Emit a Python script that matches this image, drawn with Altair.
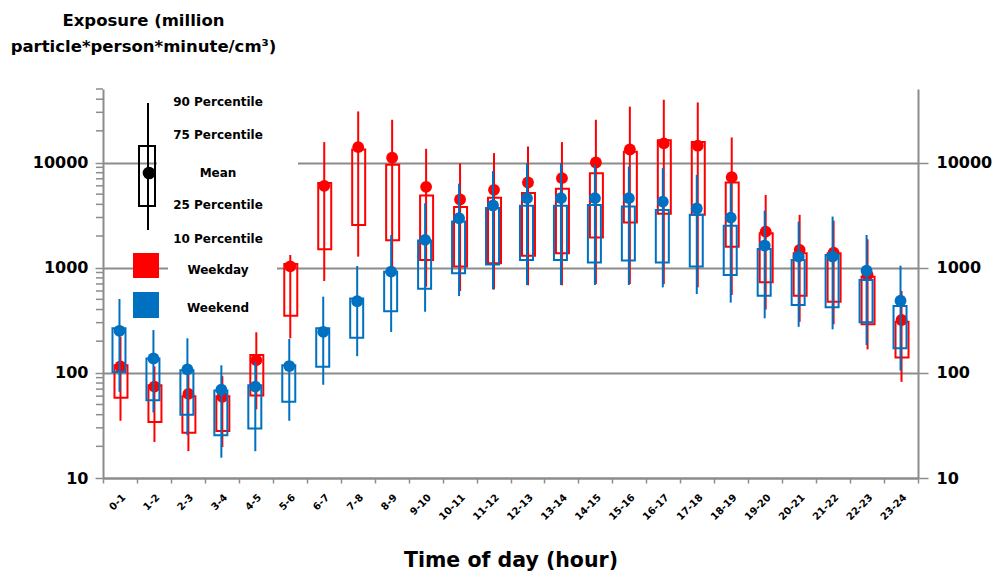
import altair as alt
import pandas as pd

# Hourly exposure statistics (million particle*person*minute/cm3)
hours = [f"{h}-{h + 1}" for h in range(24)]

weekday_p10 = [35, 22, 18, 19.7, 45, 213, 747, 1273, 900, 659, 600, 622,
               680, 680, 700, 700, 700, 650, 550, 400, 306, 290, 167, 82]
weekday_p25 = [58, 34, 27, 28, 61, 349, 1496, 2550, 1820, 1183, 1024, 1100,
               1301, 1372, 1931, 2685, 3260, 3180, 1585, 726, 541, 474, 289, 140]
weekday_mean = [115, 74, 63, 59, 132, 1030, 6000, 14000, 11100, 5870, 4450, 5500,
                6450, 7100, 10000, 13300, 15200, 14450, 7260, 2200, 1475, 1390, 852, 318]
weekday_p75 = [118, 76, 60, 60, 148, 1084, 6370, 13300, 9500, 4850, 3780, 4620,
               5120, 5620, 7900, 12650, 16300, 15700, 6450, 2120, 1372, 1372, 820, 306]
weekday_p90 = [220, 115, 100, 93, 243, 1321, 15640, 30600, 25500, 13500, 9800, 12280,
               14200, 15640, 25500, 34000, 39500, 37250, 17300, 4920, 3180, 2800, 1862, 600]

weekend_p10 = [66, 42, 25.5, 15.6, 18, 35, 77, 144, 245, 381, 537, 620,
               684, 684, 684, 684, 650, 561, 465, 330, 274, 259, 184, 105]
weekend_p25 = [102, 55, 40, 25.5, 29.5, 53, 114, 215, 385, 630, 885, 1070,
               1183, 1183, 1117, 1167, 1117, 1024, 852, 541, 442, 420, 302, 171]
weekend_mean = [251, 137, 108, 69, 74, 116, 245, 480, 916, 1837, 2950, 3900,
                4580, 4580, 4580, 4580, 4250, 3650, 2990, 1623, 1273, 1273, 936, 485]
weekend_p75 = [265, 137, 106, 68, 76, 118, 265, 510, 916, 1810, 2750, 3700,
               3870, 3870, 3950, 3810, 3540, 3180, 2500, 1507, 1183, 1321, 764, 431]
weekend_p90 = [504, 255, 213, 118, 127, 210, 530, 1037, 2046, 4100, 6300, 8300,
               9870, 9870, 9500, 9160, 8840, 7640, 6380, 3490, 2740, 3060, 2046, 1045]

y_ticks = [10, 100, 1000, 10000]
y_minor = [k * 10 ** e for e in (1, 2, 3, 4) for k in range(2, 10) if k * 10 ** e <= 50000]

RED = "#FF0000"
BLUE = "#0070C0"
GREY = "#8C8C8C"
FONT = "DejaVu Sans"

weekday = pd.DataFrame({"hour": hours, "p10": weekday_p10, "p25": weekday_p25,
                        "mean": weekday_mean, "p75": weekday_p75, "p90": weekday_p90})
weekend = pd.DataFrame({"hour": hours, "p10": weekend_p10, "p25": weekend_p25,
                        "mean": weekend_mean, "p75": weekend_p75, "p90": weekend_p90})
minor = pd.DataFrame({"v": y_minor})
one = pd.DataFrame({"k": [0]})

yscale = alt.Scale(type="log", domain=[10, 50000], nice=False)

x_enc = alt.X(
    "hour:N",
    sort=hours,
    scale=alt.Scale(type="band", domain=hours, paddingInner=0, paddingOuter=0),
    axis=alt.Axis(
        title="Time of day (hour)",
        titleFont=FONT, titleFontSize=20.5, titleFontWeight="bold", titleColor="black",
        titleY=88, titleBaseline="alphabetic",
        labelAngle=-45, labelFont=FONT, labelFontSize=10, labelFontWeight="bold",
        labelColor="black", labelPadding=9,
        tickBand="extent", tickSize=5, tickColor=GREY, tickWidth=1.5,
        domainColor=GREY, domainWidth=2, grid=False,
    ),
)

left_axis = alt.Axis(
    orient="left", values=y_ticks, format="d",
    title=["Exposure (million", "particle*person*minute/cm³)"],
    titleFont=FONT, titleFontSize=16.5, titleFontWeight="bold", titleColor="black",
    titleAngle=0, titleAlign="center", titleBaseline="alphabetic",
    titleX=40, titleY=-64, titleLineHeight=26,
    grid=True, gridColor=GREY, gridWidth=2,
    tickSize=8, tickColor=GREY, tickWidth=1.5,
    domainColor=GREY, domainWidth=2,
    labelFont=FONT, labelFontSize=16, labelFontWeight="bold", labelColor="black",
    labelPadding=7,
)
right_axis = alt.Axis(
    orient="right", values=y_ticks, format="d", title=None, grid=False,
    tickSize=10, tickColor=GREY, tickWidth=1.5,
    domainColor=GREY, domainWidth=2,
    labelFont=FONT, labelFontSize=16, labelFontWeight="bold", labelColor="black",
    labelPadding=8,
)


def series(df, color, box_shift, axis_box=None, axis_mean=None):
    base = alt.Chart(df)
    whisker = base.mark_rule(color=color, strokeWidth=2, xOffset=box_shift * 0.5).encode(
        x=x_enc,
        y=alt.Y("p10:Q", scale=yscale, axis=None),
        y2="p90:Q",
    )
    box = base.mark_bar(width=13, xOffset=box_shift, fillOpacity=0, stroke=color,
                        strokeWidth=2).encode(
        x=x_enc,
        y=alt.Y("p25:Q", scale=yscale, axis=axis_box),
        y2="p75:Q",
    )
    mean = base.mark_point(shape="circle", filled=True, size=140, opacity=1,
                           color=color, xOffset=box_shift * 0.5).encode(
        x=x_enc,
        y=alt.Y("mean:Q", scale=yscale, axis=axis_mean),
    )
    return [whisker, box, mean]


minor_ticks = alt.Chart(minor).mark_rule(color=GREY, strokeWidth=1.5).encode(
    y=alt.Y("v:Q", scale=yscale, axis=None),
    x=alt.value(-7), x2=alt.value(0),
)


def blank(x0, x1, y0, y1):
    return alt.Chart(one).mark_rect(color="white").encode(
        x=alt.value(x0), x2=alt.value(x1), y=alt.value(y0), y2=alt.value(y1))


def key_text(label, y):
    return alt.Chart(one).mark_text(
        text=label, font=FONT, fontSize=12, fontWeight="bold", color="black",
        align="center", baseline="middle",
    ).encode(x=alt.value(115), y=alt.value(y))


key = [
    blank(54, 195, 3, 151),
    blank(65, 174, 151, 231),
    alt.Chart(one).mark_rule(color="black", strokeWidth=2).encode(
        x=alt.value(45), y=alt.value(14), y2=alt.value(141)),
    alt.Chart(one).mark_rect(fillOpacity=0, stroke="black", strokeWidth=2).encode(
        x=alt.value(36), x2=alt.value(52), y=alt.value(57), y2=alt.value(117)),
    alt.Chart(one).mark_point(shape="circle", filled=True, size=160, opacity=1,
                              color="black").encode(x=alt.value(46), y=alt.value(84)),
    alt.Chart(one).mark_rect(color=RED).encode(
        x=alt.value(30), x2=alt.value(56), y=alt.value(164), y2=alt.value(189)),
    alt.Chart(one).mark_rect(color=BLUE).encode(
        x=alt.value(30), x2=alt.value(56), y=alt.value(203), y2=alt.value(229)),
    key_text("90 Percentile", 13),
    key_text("75 Percentile", 46),
    key_text("Mean", 84),
    key_text("25 Percentile", 116),
    key_text("10 Percentile", 150),
    key_text("Weekday", 181),
    key_text("Weekend", 219),
]

layers = (
    [minor_ticks]
    + key
    + series(weekday, RED, 1, axis_box=left_axis)
    + series(weekend, BLUE, -1, axis_mean=right_axis)
)

chart = (
    alt.layer(*layers)
    .resolve_axis(y="independent")
    .properties(
        width=815, height=389,
        autosize=alt.AutoSizeParams(type="none"),
        padding={"left": 103, "top": 89, "right": 82, "bottom": 101},
        background="white",
    )
    .configure_view(stroke=None)
)

chart.save("out.html", embed_options={"renderer": "svg", "actions": False})
